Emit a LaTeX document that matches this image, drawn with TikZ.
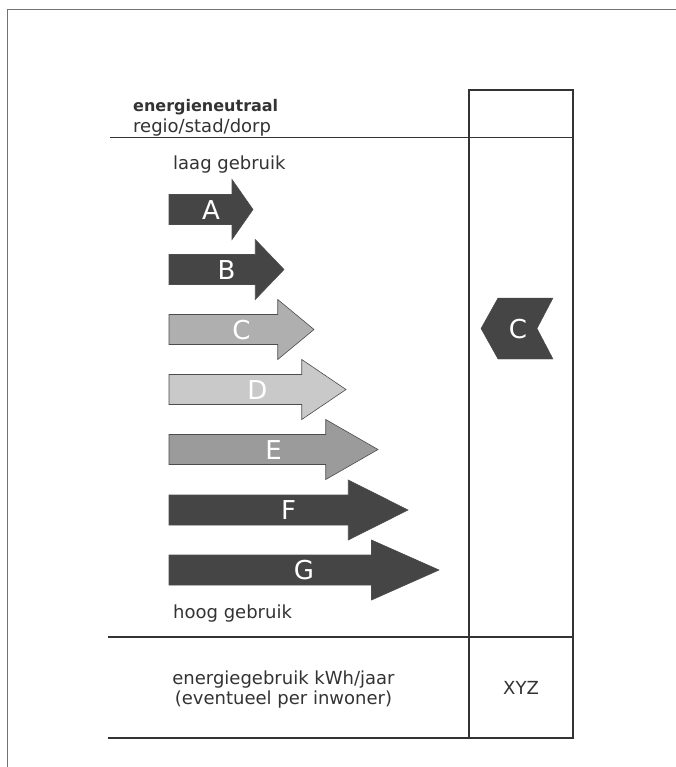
\documentclass[tikz,border=0pt]{standalone}
\usepackage{fontspec}
\setmainfont{DejaVu Sans}
\definecolor{arrdark}{HTML}{454545}
\definecolor{arrC}{HTML}{AFAFAF}
\definecolor{arrD}{HTML}{C9C9C9}
\definecolor{arrE}{HTML}{9B9B9B}
\definecolor{ink}{HTML}{333333}
\begin{document}
\begin{tikzpicture}[x=1pt,y=-1pt,
  rule/.style={draw=ink, line width=1.6pt},
  arr/.style={draw=black!70, line width=0.6pt},
  lett/.style={text=white, font=\fontsize{26}{26}\selectfont, anchor=base, inner sep=0pt},
  lbl/.style={font=\fontsize{18}{20}\selectfont, text=ink, anchor=base west, inner sep=0pt},
  lblc/.style={font=\fontsize{18}{20}\selectfont, text=ink, anchor=base, inner sep=0pt}]
\useasboundingbox (0,0) rectangle (676,767);
\fill[white] (0,0) rectangle (676,767);
% outer frame (only top and left visible)
\draw[black!55, line width=1pt] (7,767) -- (7,10) -- (676,10);
% table
\draw[rule] (469,90) rectangle (573,738);
\draw[rule] (110,137.5) -- (573,137.5);
\draw[rule] (108,637) -- (573,637);
\draw[rule] (108,738) -- (573,738);
% header texts
\node[lbl, font=\bfseries\fontsize{16}{18}\selectfont] (title) at (133,112) {energieneutraal};
\node[lbl] (sub) at (133,133) {regio/stad/dorp};
\node[lbl] (low) at (173,170) {laag gebruik};
\node[lbl] (high) at (173,618) {hoog gebruik};
% arrows
\foreach \l/\tip/\cy/\col in {A/253/209.5/arrdark, B/284/269.5/arrdark, C/314/329.5/arrC, D/346/389.5/arrD, E/378/449.5/arrE, F/408/510/arrdark, G/439/570/arrdark}{
  \pgfmathsetmacro\hs{\tip-0.25*(\tip-169)}
  \draw[arr, fill=\col] (169,\cy-15) -- (\hs,\cy-15) -- (\hs,\cy-30) -- (\tip,\cy) -- (\hs,\cy+30) -- (\hs,\cy+15) -- (169,\cy+15) -- cycle;
  \node[lett] (arrow\l) at ({(169+\tip)/2},\cy+9.5) {\l};
}
% rating chevron
\draw[fill=arrdark, draw=arrdark] (498,298) -- (553,298) -- (537,328.5) -- (553,359) -- (498,359) -- (481,328.5) -- cycle;
\node[lett] (rating) at (518,338.5) {C};
% bottom row
\node[lblc] (use1) at (283.5,684) {energiegebruik kWh/jaar};
\node[lblc] (use2) at (283.5,704) {(eventueel per inwoner)};
\node[lblc] (xyz) at (521,694.5) {XYZ};
\end{tikzpicture}
\end{document}
